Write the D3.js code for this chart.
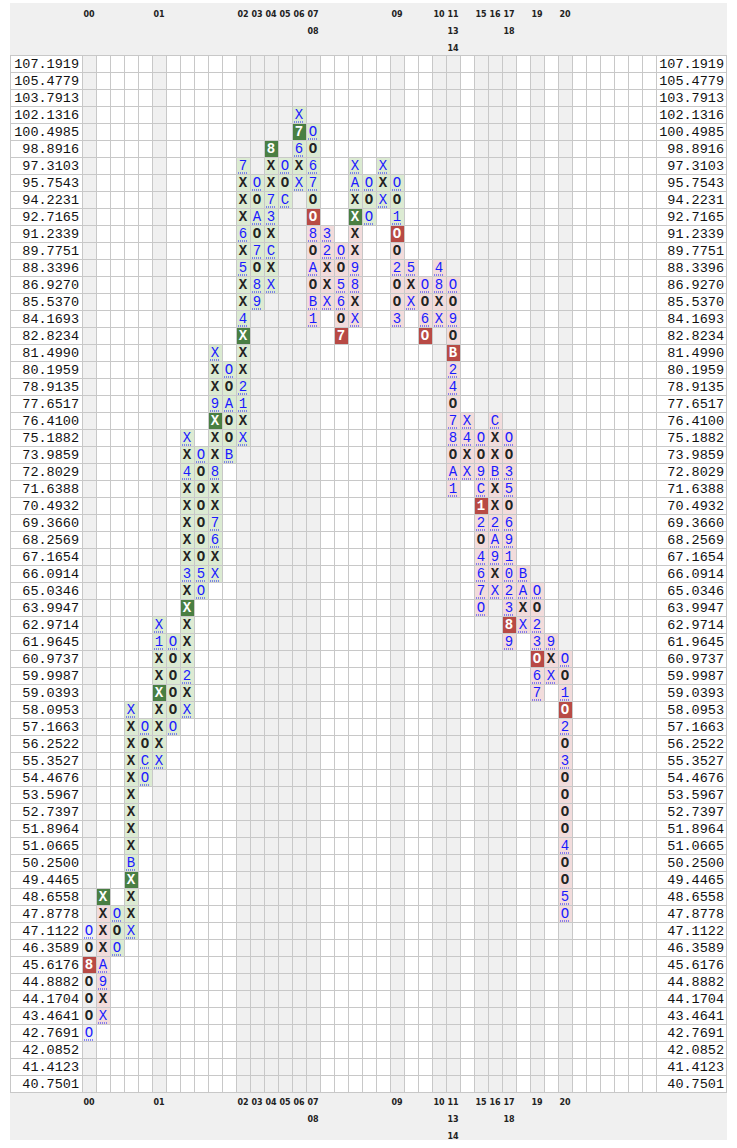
<!DOCTYPE html>
<html><head><meta charset="utf-8">
<script src="https://cdn.jsdelivr.net/npm/d3@7"></script>
<style>body{margin:0;background:#fff}</style></head>
<body><svg id="c" width="737" height="1148"></svg>
<script>
const priceLevels=["107.1919","105.4779","103.7913","102.1316","100.4985","98.8916","97.3103","95.7543","94.2231","92.7165","91.2339","89.7751","88.3396","86.9270","85.5370","84.1693","82.8234","81.4990","80.1959","78.9135","77.6517","76.4100","75.1882","73.9859","72.8029","71.6388","70.4932","69.3660","68.2569","67.1654","66.0914","65.0346","63.9947","62.9714","61.9645","60.9737","59.9987","59.0393","58.0953","57.1663","56.2522","55.3527","54.4676","53.5967","52.7397","51.8964","51.0665","50.2500","49.4465","48.6558","47.8778","47.1122","46.3589","45.6176","44.8882","44.1704","43.4641","42.7691","42.0852","41.4123","40.7501"];
// column index -> year label lines
const yearLabels=[[0,["00"]],[5,["01"]],[11,["02"]],[12,["03"]],[13,["04"]],[14,["05"]],[15,["06"]],[16,["07","08"]],[22,["09"]],[25,["10"]],[26,["11","13","14"]],[28,["15"]],[29,["16"]],[30,["17","18"]],[32,["19"]],[34,["20"]]];
// columns: top price-level index, cells top->bottom ('*' after a char = signal box)
const columnTops=[51,49,50,38,39,33,34,22,23,17,18,6,7,5,6,3,4,10,11,6,7,6,7,12,13,12,13,21,22,21,22,30,31,34,35];
const columnCells=["OO8*OOOO","X*XXXA9XX","OOO","XXXXXXXXXBX*XXX","OOCO","X1XXX*XXXX","OOOOOO","XX4XXXXX3XX*XXX2XX","OOOOOOO5O","XXX9X*XX8XX76XX","OOAOOB","7XXX6X5XX4X*XX21XX","OOAO7O89","8*XX73XCXX","OOC","X7*6XX","OO67OO*8OAOB1","32XXX","OO56O7*","XAXX*XX98XX","OOO","XXX","OO1O*O2OO3","5XX","OO6O*","48XX","OO9OB*24O78OA1","X4XX","OO9C1*2O467O","CXXBXX2A9XX","OO35O6910238*9","BAXX","OO23O*67","9XX","OO1O*2O3OOOO4OO5O"];
const nCols=41;

const svg=d3.select("#c");
const x=d3.scaleBand().domain(d3.range(nCols)).range([82,82+14*nCols]);
const y=d3.scaleBand().domain(d3.range(priceLevels.length)).range([55,55+17*priceLevels.length]);
const gridB=55+17*priceLevels.length;
const grayCols=new Set(yearLabels.map(d=>d[0]));

svg.append("rect").attr("x",10).attr("y",3).attr("width",717).attr("height",52).attr("fill","#f0f0f0");
svg.append("rect").attr("x",10).attr("y",gridB).attr("width",717).attr("height",1140-gridB).attr("fill","#f0f0f0");
svg.selectAll(".gc").data([...grayCols]).join("rect").attr("x",d=>x(d)).attr("y",55).attr("width",14).attr("height",gridB-55).attr("fill","#f0f0f0");

const cells=[];
let regime=null;
columnCells.forEach((s,ci)=>{
  const arr=[];
  for(let i=0;i<s.length;i++){const ch=s[i];if(ch==='*')continue;arr.push({ch,box:s[i+1]==='*'});}
  const isX=arr.some(d=>d.ch==='X');
  arr.forEach((d,k)=>{d.col=ci;d.row=columnTops[ci]+k;d.end=(k===0||k===arr.length-1);});
  const order=isX?arr.slice().reverse():arr;
  order.forEach(d=>{
    if(d.box){d.bg=isX?"#4a7f43":"#b84a45";regime=isX?"g":"p";}
    else d.bg=ci===0?null:(regime==="g"?"#dcebd3":regime==="p"?"#f2dcdc":null);
    d.blue=!(d.ch==='X'||d.ch==='O')||(d.end&&!d.box);
    cells.push(d);
  });
});
svg.selectAll(".bg").data(cells.filter(d=>d.bg)).join("rect").attr("x",d=>x(d.col)).attr("y",d=>y(d.row)).attr("width",14).attr("height",17).attr("fill",d=>d.bg);

const g=svg.append("g").attr("stroke","#c8c8c8").attr("stroke-width",1);
d3.range(priceLevels.length+1).forEach(r=>{const yy=55+17*r+0.5;g.append("line").attr("x1",10).attr("x2",727).attr("y1",yy).attr("y2",yy);});
d3.range(nCols+1).forEach(c=>{const xx=82+14*c+0.5;g.append("line").attr("x1",xx).attr("x2",xx).attr("y1",55).attr("y2",gridB);});
g.append("line").attr("x1",10.5).attr("x2",10.5).attr("y1",55).attr("y2",gridB);
g.append("line").attr("x1",726.5).attr("x2",726.5).attr("y1",55).attr("y2",gridB);

const lf="'Liberation Mono','Courier New',monospace";
svg.selectAll(".pl").data(priceLevels).join("text").attr("x",79).attr("y",(d,i)=>y(i)+13).attr("text-anchor","end").attr("font-family",lf).attr("font-size",13.5).attr("fill","#111").text(d=>d);
svg.selectAll(".pr").data(priceLevels).join("text").attr("x",724).attr("y",(d,i)=>y(i)+13).attr("text-anchor","end").attr("font-family",lf).attr("font-size",13.5).attr("fill","#111").text(d=>d);

const cf="'Liberation Mono','Courier New',monospace";
svg.selectAll(".ct").data(cells).join("text").attr("x",d=>x(d.col)+7).attr("y",d=>y(d.row)+13).attr("text-anchor","middle")
 .attr("font-family",cf).attr("font-size",14).attr("font-weight",d=>d.box||!d.blue?"bold":"normal")
 .attr("fill",d=>d.box?"#fff":d.blue?"#1a1aff":"#222").text(d=>d.ch);
svg.selectAll(".ul").data(cells.filter(d=>d.blue&&!d.box)).join("line").attr("x1",d=>x(d.col)+2).attr("x2",d=>x(d.col)+12)
 .attr("y1",d=>y(d.row)+16).attr("y2",d=>y(d.row)+16).attr("stroke","#1a1aff").attr("stroke-width",1).attr("stroke-dasharray","1,1");

yearLabels.forEach(([c,lines])=>{
  lines.forEach((t,i)=>{
    svg.append("text").attr("x",x(c)+7).attr("y",17+17*i).attr("text-anchor","middle").attr("font-family","Verdana,'DejaVu Sans',sans-serif").attr("font-weight","bold").attr("font-size",8).attr("fill","#222").text(t);
    svg.append("text").attr("x",x(c)+7).attr("y",gridB+13+17*i).attr("text-anchor","middle").attr("font-family","Verdana,'DejaVu Sans',sans-serif").attr("font-weight","bold").attr("font-size",8).attr("fill","#222").text(t);
  });
});
</script></body></html>
